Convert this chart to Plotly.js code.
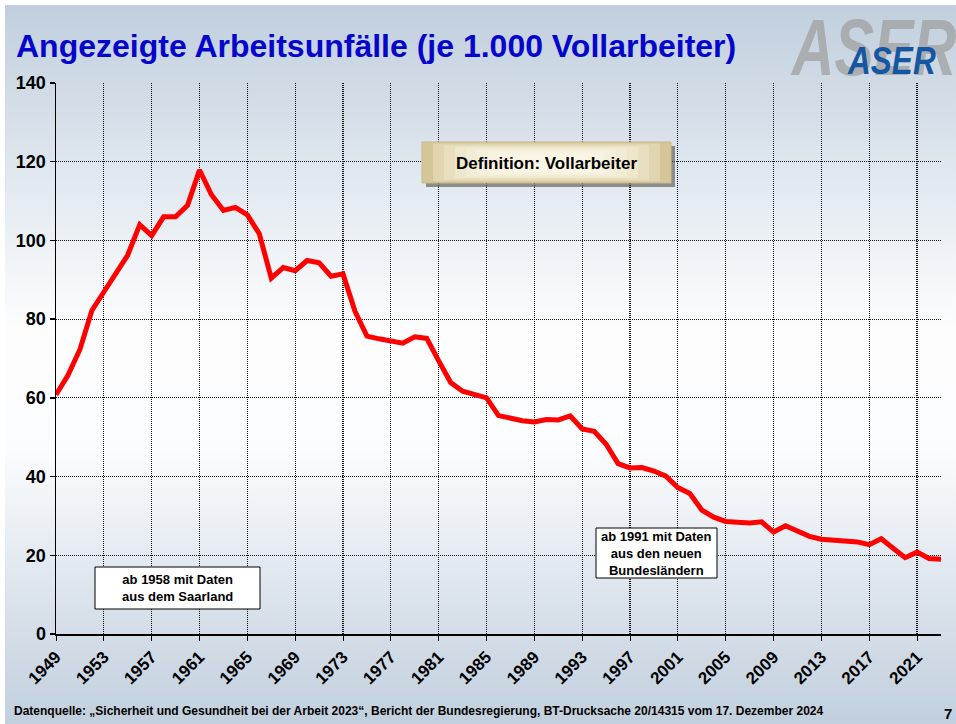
<!DOCTYPE html>
<html>
<head>
<meta charset="utf-8">
<script src="https://cdn.plot.ly/plotly-3.0.1.min.js"></script>
<style>
  html, body { margin: 0; padding: 0; background: #ffffff; }
  #bg { position: absolute; left: 5px; top: 5px; width: 951px; height: 719px;
        background: linear-gradient(to bottom, #c1cfdd 0%, #e2e9f0 25%, #fdfdfe 45%, #fbfcfd 62%, #dfe6ee 80%, #c1cfdd 100%); }
  #chart { position: absolute; left: 0; top: 0; width: 956px; height: 724px; }
</style>
</head>
<body>
<div id="bg"></div>
<div id="chart"></div>
<script>
// ---- data ----
const years = [1949,1950,1951,1952,1953,1954,1955,1956,1957,1958,1959,1960,1961,1962,1963,1964,1965,1966,1967,1968,1969,1970,1971,1972,1973,1974,1975,1976,1977,1978,1979,1980,1981,1982,1983,1984,1985,1986,1987,1988,1989,1990,1991,1992,1993,1994,1995,1996,1997,1998,1999,2000,2001,2002,2003,2004,2005,2006,2007,2008,2009,2010,2011,2012,2013,2014,2015,2016,2017,2018,2019,2020,2021,2022,2023];
const unfaelle = [60.8,65.7,72.3,82.2,86.9,91.4,96.3,104.0,101.2,106.0,106.0,108.9,117.9,111.6,107.6,108.4,106.5,101.7,90.4,93.1,92.3,94.9,94.3,90.9,91.5,82.0,75.7,75.0,74.6,73.9,75.5,75.1,69.4,63.9,61.7,60.7,60.0,55.5,54.8,54.2,53.9,54.5,54.4,55.4,52.1,51.5,48.2,43.3,42.2,42.3,41.4,40.1,37.2,35.7,31.5,29.7,28.6,28.5,28.2,28.5,25.9,27.5,26.1,24.8,24.1,23.8,23.4,23.4,22.7,24.2,21.8,19.4,20.8,19.2,19.0];
const xTickVals = [1949,1953,1957,1961,1965,1969,1973,1977,1981,1985,1989,1993,1997,2001,2005,2009,2013,2017,2021];
const yTickVals = [0,20,40,60,80,100,120,140];

const titleText = 'Angezeigte Arbeitsunfälle (je 1.000 Vollarbeiter)';
const sourceText = 'Datenquelle: „Sicherheit und Gesundheit bei der Arbeit 2023“, Bericht der Bundesregierung, BT-Drucksache 20/14315 vom 17. Dezember 2024';
const noteDefinition = 'Definition: Vollarbeiter';
const noteSaarland = 'ab 1958 mit Daten<br>aus dem Saarland';
const noteNBL = 'ab 1991 mit Daten<br>aus den neuen<br>Bundesländern';
const logoText = 'ASER';
const pageNo = '7';

// ---- layout helpers (page pixels -> paper coords) ----
const W = 956, H = 724, ML = 56, MR = 15, MT = 83, MB = 90;
const PW = W - ML - MR, PH = H - MT - MB;
const px = x => (x - ML) / PW;
const py = y => (H - MB - y) / PH;
const FONT = 'Liberation Sans, Arial, sans-serif';

function rect(x0, y0, x1, y1, fill, line, lw) {
  return { type: 'rect', xref: 'paper', yref: 'paper', layer: 'above',
    x0: px(x0), x1: px(x1), y0: py(y1), y1: py(y0),
    fillcolor: fill, line: { color: line || fill, width: lw || 0 } };
}

// Definition box with soft beige gradient built from stacked translucent layers
const defShapes = [
  rect(426, 146, 675, 187, 'rgba(70,65,55,0.55)'),
  rect(422, 142, 671, 183, '#d5c698', '#c8b98c', 1)
];
for (let i = 1; i <= 8; i++) {
  defShapes.push(rect(422 + i * 11, 142 + i * 1.6, 671 - i * 11, 183 - i * 1.6, 'rgba(255,250,236,0.28)'));
}

const trace = {
  x: years, y: unfaelle, type: 'scatter', mode: 'lines',
  line: { color: '#ff0000', width: 5, shape: 'linear' },
  hoverinfo: 'skip'
};

const layout = {
  width: W, height: H,
  margin: { l: ML, r: MR, t: MT, b: MB, pad: 0 },
  paper_bgcolor: 'rgba(0,0,0,0)',
  plot_bgcolor: 'rgba(0,0,0,0)',
  showlegend: false,
  xaxis: {
    range: [1949, 2023], tickmode: 'array', tickvals: xTickVals,
    ticktext: xTickVals.map(String), tickangle: -45,
    tickfont: { family: FONT, size: 17, color: '#000', weight: 'bold' },
    ticks: 'outside', ticklen: 5, tickcolor: '#000', tickwidth: 1,
    showline: true, linecolor: '#000', linewidth: 1.5,
    showgrid: true, gridcolor: '#111', griddash: '1px,1px', gridwidth: 1.2,
    zeroline: false, fixedrange: true
  },
  yaxis: {
    range: [0, 140], tickmode: 'array', tickvals: yTickVals,
    tickfont: { family: FONT, size: 18, color: '#000', weight: 'bold' },
    ticks: 'outside', ticklen: 5, tickcolor: '#000', tickwidth: 1.5,
    showline: true, linecolor: '#000', linewidth: 1.5,
    showgrid: true, gridcolor: '#111', griddash: '1px,1px', gridwidth: 1.2,
    zeroline: false, fixedrange: true
  },
  shapes: defShapes.concat([
    rect(95, 567, 260, 609, '#ffffff', '#000000', 1),
    rect(596, 528, 717, 578, '#ffffff', '#000000', 1)
  ]),
  annotations: [
    { text: '<b>' + titleText + '</b>', xref: 'paper', yref: 'paper',
      x: px(14), y: py(46), xanchor: 'left', yanchor: 'middle', showarrow: false,
      font: { family: FONT, size: 32, color: '#0505cc' } },
    { name: 'logoBig', text: '<b><i>' + logoText + '</i></b>', xref: 'paper', yref: 'paper',
      x: px(958), y: py(47), xanchor: 'right', yanchor: 'middle', showarrow: false,
      font: { family: FONT, size: 80, color: 'rgba(160,160,160,0.75)' } },
    { name: 'logoSmall', text: '<b><i>' + logoText + '</i></b>', xref: 'paper', yref: 'paper',
      x: px(938), y: py(61), xanchor: 'right', yanchor: 'middle', showarrow: false,
      font: { family: FONT, size: 38, color: '#1456a3' } },
    { text: '<b>' + noteDefinition + '</b>', xref: 'paper', yref: 'paper',
      x: px(546), y: py(163), xanchor: 'center', yanchor: 'middle', showarrow: false,
      font: { family: FONT, size: 17, color: '#000' } },
    { text: '<b>' + noteSaarland + '</b>', xref: 'paper', yref: 'paper',
      x: px(177.5), y: py(588), xanchor: 'center', yanchor: 'middle', showarrow: false,
      font: { family: FONT, size: 13, color: '#000' } },
    { text: '<b>' + noteNBL + '</b>', xref: 'paper', yref: 'paper',
      x: px(656.5), y: py(553), xanchor: 'center', yanchor: 'middle', showarrow: false,
      font: { family: FONT, size: 13, color: '#000' } },
    { text: '<b>' + sourceText + '</b>', xref: 'paper', yref: 'paper',
      x: px(12), y: py(711), xanchor: 'left', yanchor: 'middle', showarrow: false,
      font: { family: FONT, size: 12, color: '#000' } },
    { text: '<b>' + pageNo + '</b>', xref: 'paper', yref: 'paper',
      x: px(954), y: py(713), xanchor: 'right', yanchor: 'middle', showarrow: false,
      font: { family: FONT, size: 15, color: '#000' } }
  ]
};

Plotly.newPlot('chart', [trace], layout, { staticPlot: true, displayModeBar: false }).then(function (gd) {
  // condense the logo lettering horizontally (the original uses a narrow face)
  const squeeze = { 1: 0.74, 2: 0.83 };
  const groups = gd.querySelectorAll('.annotation');
  Object.keys(squeeze).forEach(function (k) {
    const g = groups[+k];
    if (!g) return;
    const t = g.querySelector('text');
    if (!t) return;
    const bb = t.getBBox();
    const R = bb.x + bb.width;
    const prev = t.getAttribute('transform') || '';
    t.setAttribute('transform', prev + ' translate(' + R + ',0) scale(' + squeeze[k] + ',1) translate(' + (-R) + ',0)');
  });
});
</script>
</body>
</html>
